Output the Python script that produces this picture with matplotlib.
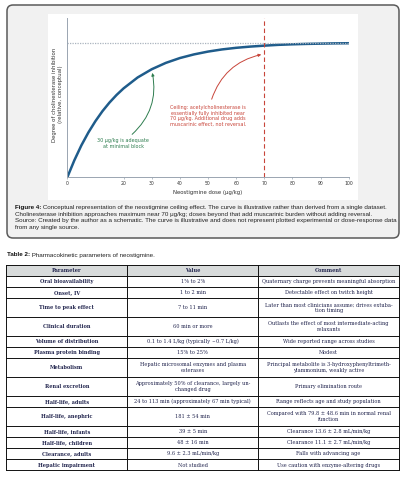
import numpy as np
import matplotlib
matplotlib.use("Agg")
import matplotlib.pyplot as plt
from matplotlib.patches import FancyBboxPatch, Rectangle, FancyArrowPatch

# curve (conceptual inhibition vs dose)
dose = [0, 2.5, 5, 7.5, 10, 12.5, 15, 17.5, 20, 25, 30, 35, 40, 45, 50,
        55, 60, 65, 70, 75, 80, 85, 90, 95, 100]
inhibition = [0.0, 0.126, 0.237, 0.333, 0.417, 0.491, 0.555, 0.611, 0.66,
              0.741, 0.802, 0.849, 0.885, 0.912, 0.933, 0.949, 0.961, 0.97,
              0.977, 0.983, 0.987, 0.99, 0.992, 0.994, 0.995]
xticks = [0, 20, 30, 40, 50, 60, 70, 80, 90, 100]
ceiling_dose = 70
adequate_dose = 30

caption_lines = [
    "Conceptual representation of the neostigmine ceiling effect. The curve is illustrative rather than derived from a single dataset.",
    "Cholinesterase inhibition approaches maximum near 70 \u03bcg/kg; doses beyond that add muscarinic burden without adding reversal.",
    "Source: Created by the author as a schematic. The curve is illustrative and does not represent plotted experimental or dose-response data",
    "from any single source.",
]

headers = ["Parameter", "Value", "Comment"]
parameters = ["Oral bioavailability", "Onset, IV", "Time to peak effect",
              "Clinical duration", "Volume of distribution",
              "Plasma protein binding", "Metabolism", "Renal excretion",
              "Half-life, adults", "Half-life, anephric", "Half-life, infants",
              "Half-life, children", "Clearance, adults", "Hepatic impairment"]
values = ["1% to 2%", "1 to 2 min", "7 to 11 min", "60 min or more",
          "0.1 to 1.4 L/kg (typically ~0.7 L/kg)", "15% to 25%",
          "Hepatic microsomal enzymes and plasma\nesterases",
          "Approximately 50% of clearance, largely un-\nchanged drug",
          "24 to 113 min (approximately 67 min typical)", "181 \u00b1 54 min",
          "39 \u00b1 5 min", "48 \u00b1 16 min", "9.6 \u00b1 2.3 mL/min/kg",
          "Not studied"]
comments = ["Quaternary charge prevents meaningful absorption",
            "Detectable effect on twitch height",
            "Later than most clinicians assume; drives extuba-\ntion timing",
            "Outlasts the effect of most intermediate-acting\nrelaxants",
            "Wide reported range across studies", "Modest",
            "Principal metabolite is 3-hydroxyphenyltrimeth-\nylammonium, weakly active",
            "Primary elimination route",
            "Range reflects age and study population",
            "Compared with 79.8 \u00b1 48.6 min in normal renal\nfunction",
            "Clearance 13.6 \u00b1 2.8 mL/min/kg",
            "Clearance 11.1 \u00b1 2.7 mL/min/kg",
            "Falls with advancing age",
            "Use caution with enzyme-altering drugs"]

W, H = 406, 479
fig = plt.figure(figsize=(W / 100, H / 100), dpi=100)

# page layer in pixel coordinates
bg = fig.add_axes([0, 0, 1, 1], zorder=0)
bg.set_xlim(0, W)
bg.set_ylim(H, 0)
bg.axis("off")

box = FancyBboxPatch((7, 5), 392, 233, boxstyle="round,pad=0,rounding_size=6",
                     fc="#f1f1f1", ec="#5a5a5a", lw=1.1)
bg.add_patch(box)
bg.add_patch(Rectangle((48, 14), 310, 186, fc="white", ec="none"))

sans = "Liberation Sans"
cfs = 4.5
cap_y = [207.3, 214.1, 220.9, 227.7]
lab = bg.text(15, cap_y[0], "Figure 4:", fontsize=cfs, family=sans,
              fontweight="bold", va="center", color="#111")
bg.annotate(" " + caption_lines[0], xy=(1, 0.5), xycoords=lab, va="center",
            fontsize=cfs, family=sans, color="#222")
for y, line in zip(cap_y[1:], caption_lines[1:]):
    bg.text(15, y, line, fontsize=cfs, family=sans, va="center", color="#222")

tlab = bg.text(7, 255, "Table 2:", fontsize=cfs, family=sans,
               fontweight="bold", va="center", color="#111")
bg.annotate(" Pharmacokinetic parameters of neostigmine.", xy=(1, 0.5),
            xycoords=tlab, va="center", fontsize=cfs, family=sans, color="#222")

# table
col_x = [6.3, 127.3, 258.3, 399]
top = 265.3
head_h = 10.4
serif = "DejaVu Serif"
tcol = "#23264f"
fs = 3.6
bg.add_patch(Rectangle((col_x[0], top), col_x[-1] - col_x[0], head_h,
                       fc="#d8dbdb", ec="none"))
for i, h in enumerate(headers):
    bg.text((col_x[i] + col_x[i + 1]) / 2, top + head_h / 2, h, ha="center",
            va="center", fontsize=fs, family=serif, fontweight="bold", color=tcol)
y = top + head_h
row_lines = [top, y]
for p, v, c in zip(parameters, values, comments):
    n = max(v.count("\n"), c.count("\n")) + 1
    rh = 11.2 if n == 1 else 18.8
    cells = [p, v, c]
    for i, txt in enumerate(cells):
        bg.text((col_x[i] + col_x[i + 1]) / 2, y + rh / 2 + 0.3, txt,
                ha="center", va="center", fontsize=fs, family=serif,
                linespacing=1.25, color=tcol,
                fontweight="bold" if i == 0 else "normal")
    y += rh
    row_lines.append(y)
for ry in row_lines:
    bg.plot([col_x[0], col_x[-1]], [ry, ry], color="#111", lw=0.7)
for cx in col_x:
    bg.plot([cx, cx], [top, y], color="#111", lw=0.7)

# chart
ax = fig.add_axes([67.3 / W, 1 - 177.3 / H, 281.4 / W, 159 / H], zorder=1)
ax.set_facecolor("none")
ax.plot(dose, inhibition, color="#1f5c8b", lw=1.8, solid_capstyle="round")
ax.axhline(1.0, color="#aab4bf", lw=0.9, ls=(0, (1, 1)))
ax.axvline(ceiling_dose, color="#c8453a", lw=0.8, ls=(0, (4, 2.5)))
ax.set_xlim(0, 100)
ax.set_ylim(0, 1.18)
ax.set_xticks(xticks)
ax.set_yticks([])
ax.tick_params(axis="x", labelsize=3.3, length=1.5, width=0.5, pad=1.2,
               colors="#9aa5b1", labelcolor="#333")
for s in ["top", "right"]:
    ax.spines[s].set_visible(False)
for s in ["left", "bottom"]:
    ax.spines[s].set_color("#9aa5b1")
    ax.spines[s].set_linewidth(0.7)
ax.set_xlabel("Neostigmine dose (\u03bcg/kg)", fontsize=3.9, color="#333")
ax.xaxis.set_label_coords(0.5, -0.078)
ax.set_ylabel("Degree of cholinesterase inhibition\n(relative, conceptual)",
              fontsize=3.9, color="#333")
ax.yaxis.set_label_coords(-0.017, 0.52)

green = "#2e7d4f"
red = "#c8453a"
ax.text(19.9, 0.25, "30 \u03bcg/kg is adequate\nat minimal block", ha="center",
        va="center", fontsize=3.5, color=green, linespacing=1.1)
ax.add_patch(FancyArrowPatch((22.3, 0.305), (adequate_dose, 0.795),
                             connectionstyle="arc3,rad=0.3", arrowstyle="-|>",
                             mutation_scale=4, lw=0.7, color=green))
ax.text(50, 0.455, "Ceiling: acetylcholinesterase is\nessentially fully inhibited near\n"
        "70 \u03bcg/kg. Additional drug adds\nmuscarinic effect, not reversal.",
        ha="center", va="center", fontsize=3.5, color=red, linespacing=1.1)
ax.add_patch(FancyArrowPatch((51, 0.56), (ceiling_dose - 0.1, 0.915),
                             connectionstyle="arc3,rad=-0.3", arrowstyle="-|>",
                             mutation_scale=4, lw=0.7, color=red))

fig.savefig("out.png", dpi=100)
